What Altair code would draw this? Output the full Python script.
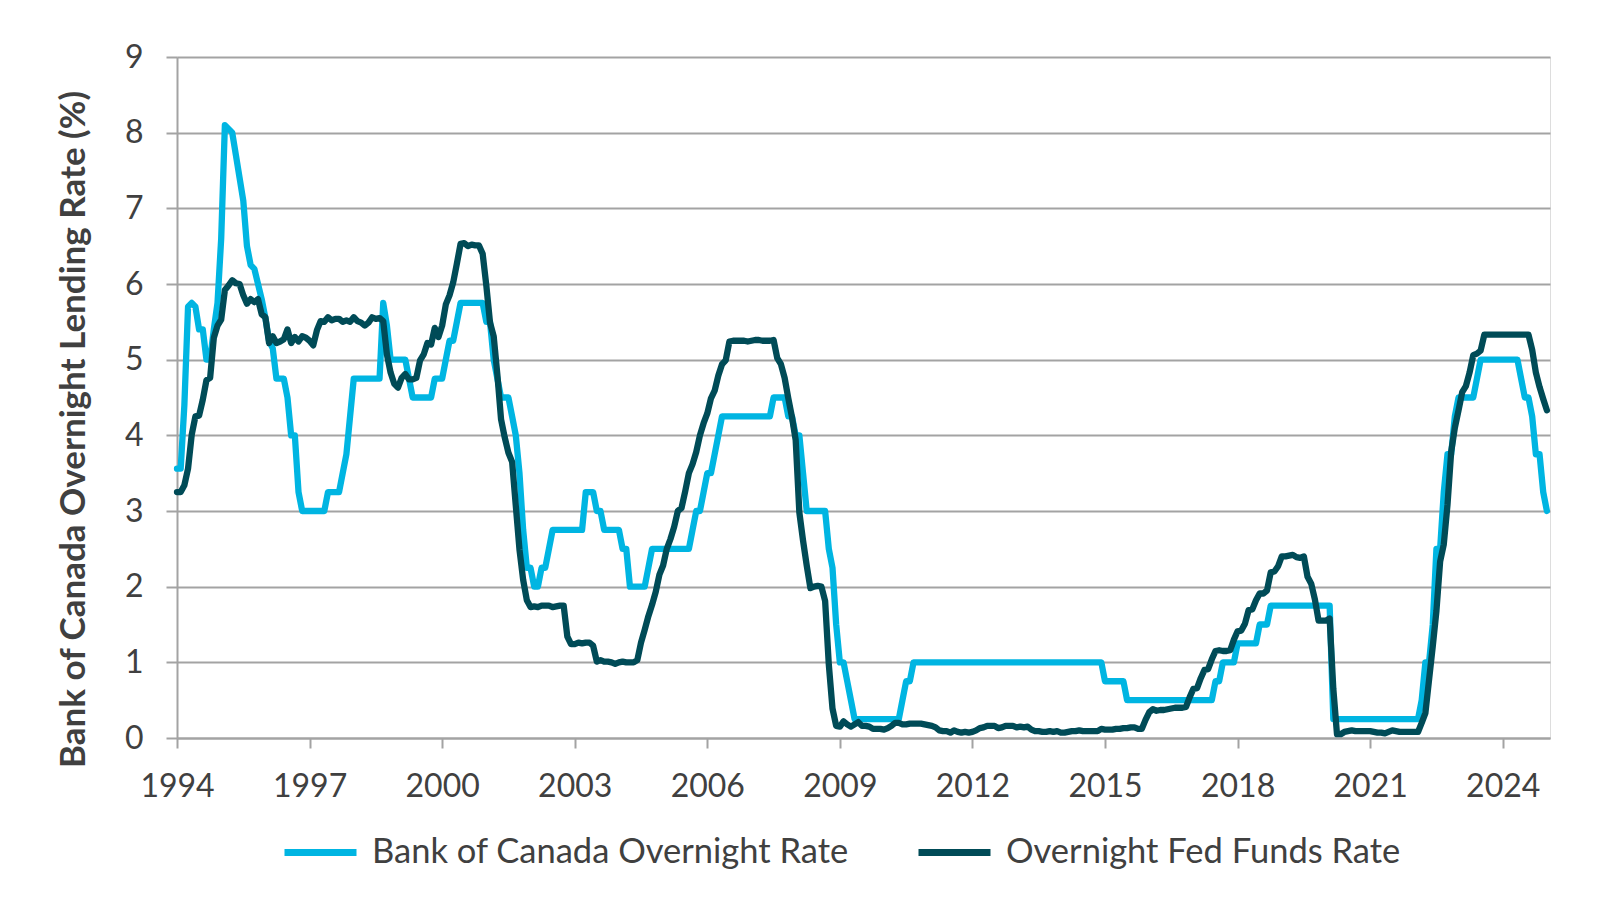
import altair as alt
import pandas as pd

# ---------------- data ----------------
SERIES = ["Bank of Canada Overnight Rate", "Overnight Fed Funds Rate"]
COLORS = ["#00B5E2", "#004B57"]

# Bank of Canada: vertices of the stepped monthly line (month, %)
BOC_DATES = [
    "1994-01", "1994-02", "1994-03", "1994-04", "1994-05", "1994-06", "1994-07", "1994-08",
    "1994-09", "1994-10", "1994-11", "1994-12", "1995-01", "1995-02", "1995-03", "1995-04",
    "1995-05", "1995-06", "1995-07", "1995-08", "1995-09", "1995-10", "1995-11", "1995-12",
    "1996-01", "1996-02", "1996-03", "1996-04", "1996-06", "1996-07", "1996-08", "1996-09",
    "1996-10", "1996-11", "1997-05", "1997-06", "1997-09", "1997-10", "1997-11", "1997-12",
    "1998-01", "1998-08", "1998-09", "1998-10", "1998-11", "1999-03", "1999-04", "1999-05",
    "1999-10", "1999-11", "2000-01", "2000-02", "2000-03", "2000-04", "2000-05", "2000-06",
    "2000-12", "2001-01", "2001-02", "2001-03", "2001-04", "2001-05", "2001-07", "2001-08",
    "2001-09", "2001-10", "2001-11", "2001-12", "2002-01", "2002-02", "2002-03", "2002-04",
    "2002-05", "2002-06", "2002-07", "2003-03", "2003-04", "2003-06", "2003-07", "2003-08",
    "2003-09", "2004-01", "2004-02", "2004-03", "2004-04", "2004-08", "2004-09", "2004-10",
    "2005-08", "2005-09", "2005-10", "2005-11", "2005-12", "2006-01", "2006-02", "2006-03",
    "2006-04", "2006-05", "2007-06", "2007-07", "2007-10", "2007-11", "2007-12", "2008-01",
    "2008-02", "2008-03", "2008-04", "2008-09", "2008-10", "2008-11", "2008-12", "2009-01",
    "2009-02", "2009-03", "2009-04", "2009-05", "2010-05", "2010-06", "2010-07", "2010-08",
    "2010-09", "2014-12", "2015-01", "2015-06", "2015-07", "2017-06", "2017-07", "2017-08",
    "2017-09", "2017-12", "2018-01", "2018-06", "2018-07", "2018-09", "2018-10", "2020-02",
    "2020-03", "2022-02", "2022-03", "2022-04", "2022-05", "2022-06", "2022-07", "2022-08",
    "2022-09", "2022-10", "2022-11", "2022-12", "2023-01", "2023-05", "2023-06", "2023-07",
    "2024-05", "2024-06", "2024-07", "2024-08", "2024-09", "2024-10", "2024-11", "2024-12",
    "2025-01",
]
BOC_RATES = [
    3.56, 3.56, 4.40, 5.70, 5.75, 5.70, 5.40, 5.40,
    5.00, 5.00, 5.40, 5.75, 6.60, 8.10, 8.05, 8.00,
    7.70, 7.40, 7.10, 6.50, 6.25, 6.20, 6.00, 5.80,
    5.55, 5.25, 5.15, 4.75, 4.75, 4.50, 4.00, 4.00,
    3.25, 3.00, 3.00, 3.25, 3.25, 3.50, 3.75, 4.25,
    4.75, 4.75, 5.75, 5.45, 5.00, 5.00, 4.75, 4.50,
    4.50, 4.75, 4.75, 5.00, 5.25, 5.25, 5.50, 5.75,
    5.75, 5.50, 5.50, 5.00, 4.75, 4.50, 4.50, 4.25,
    4.00, 3.50, 2.75, 2.25, 2.25, 2.00, 2.00, 2.25,
    2.25, 2.50, 2.75, 2.75, 3.25, 3.25, 3.00, 3.00,
    2.75, 2.75, 2.50, 2.50, 2.00, 2.00, 2.25, 2.50,
    2.50, 2.75, 3.00, 3.00, 3.25, 3.50, 3.50, 3.75,
    4.00, 4.25, 4.25, 4.50, 4.50, 4.25, 4.25, 4.00,
    4.00, 3.50, 3.00, 3.00, 2.50, 2.25, 1.50, 1.00,
    1.00, 0.75, 0.50, 0.25, 0.25, 0.50, 0.75, 0.75,
    1.00, 1.00, 0.75, 0.75, 0.50, 0.50, 0.75, 0.75,
    1.00, 1.00, 1.25, 1.25, 1.50, 1.50, 1.75, 1.75,
    0.25, 0.25, 0.50, 1.00, 1.00, 1.50, 2.50, 2.50,
    3.25, 3.75, 3.75, 4.25, 4.50, 4.50, 4.75, 5.00,
    5.00, 4.75, 4.50, 4.50, 4.25, 3.75, 3.75, 3.25,
    3.00,
]

# Fed funds: monthly values, Jan 1994 .. Jan 2025
FED_START = "1994-01"
FED_RATES = [
    3.25, 3.25, 3.34, 3.56, 4.01, 4.25, 4.26, 4.47, 4.73, 4.76, 5.29, 5.45,  # 1994
    5.53, 5.92, 5.98, 6.05, 6.01, 6.00, 5.85, 5.74, 5.80, 5.76, 5.80, 5.60,  # 1995
    5.56, 5.22, 5.31, 5.22, 5.24, 5.27, 5.40, 5.22, 5.30, 5.24, 5.31, 5.29,  # 1996
    5.25, 5.19, 5.39, 5.51, 5.50, 5.56, 5.52, 5.54, 5.54, 5.50, 5.52, 5.50,  # 1997
    5.56, 5.51, 5.49, 5.45, 5.49, 5.56, 5.54, 5.55, 5.51, 5.07, 4.83, 4.68,  # 1998
    4.63, 4.76, 4.81, 4.74, 4.74, 4.76, 4.99, 5.07, 5.22, 5.20, 5.42, 5.30,  # 1999
    5.45, 5.73, 5.85, 6.02, 6.27, 6.53, 6.54, 6.50, 6.52, 6.51, 6.51, 6.40,  # 2000
    5.98, 5.49, 5.31, 4.80, 4.21, 3.97, 3.77, 3.65, 3.07, 2.49, 2.09, 1.82,  # 2001
    1.73, 1.74, 1.73, 1.75, 1.75, 1.75, 1.73, 1.74, 1.75, 1.75, 1.34, 1.24,  # 2002
    1.24, 1.26, 1.25, 1.26, 1.26, 1.22, 1.01, 1.03, 1.01, 1.01, 1.00, 0.98,  # 2003
    1.00, 1.01, 1.00, 1.00, 1.00, 1.03, 1.26, 1.43, 1.61, 1.76, 1.93, 2.16,  # 2004
    2.28, 2.50, 2.63, 2.79, 3.00, 3.04, 3.26, 3.50, 3.62, 3.78, 4.00, 4.16,  # 2005
    4.29, 4.49, 4.59, 4.79, 4.94, 4.99, 5.24, 5.25, 5.25, 5.25, 5.25, 5.24,  # 2006
    5.25, 5.26, 5.26, 5.25, 5.25, 5.25, 5.26, 5.02, 4.94, 4.76, 4.49, 4.24,  # 2007
    3.94, 2.98, 2.61, 2.28, 1.98, 2.00, 2.01, 2.00, 1.81, 0.97, 0.39, 0.16,  # 2008
    0.15, 0.22, 0.18, 0.15, 0.18, 0.21, 0.16, 0.16, 0.15, 0.12, 0.12, 0.12,  # 2009
    0.11, 0.13, 0.16, 0.20, 0.20, 0.18, 0.18, 0.19, 0.19, 0.19, 0.19, 0.18,  # 2010
    0.17, 0.16, 0.14, 0.10, 0.09, 0.09, 0.07, 0.10, 0.08, 0.07, 0.08, 0.07,  # 2011
    0.08, 0.10, 0.13, 0.14, 0.16, 0.16, 0.16, 0.13, 0.14, 0.16, 0.16, 0.16,  # 2012
    0.14, 0.15, 0.14, 0.15, 0.11, 0.09, 0.09, 0.08, 0.08, 0.09, 0.08, 0.09,  # 2013
    0.07, 0.07, 0.08, 0.09, 0.09, 0.10, 0.09, 0.09, 0.09, 0.09, 0.09, 0.12,  # 2014
    0.11, 0.11, 0.11, 0.12, 0.12, 0.13, 0.13, 0.14, 0.14, 0.12, 0.12, 0.24,  # 2015
    0.34, 0.38, 0.36, 0.37, 0.37, 0.38, 0.39, 0.40, 0.40, 0.40, 0.41, 0.54,  # 2016
    0.65, 0.66, 0.79, 0.90, 0.91, 1.04, 1.15, 1.16, 1.15, 1.15, 1.16, 1.30,  # 2017
    1.41, 1.42, 1.51, 1.69, 1.70, 1.82, 1.91, 1.91, 1.95, 2.19, 2.20, 2.27,  # 2018
    2.40, 2.40, 2.41, 2.42, 2.39, 2.38, 2.40, 2.13, 2.04, 1.83, 1.55, 1.55,  # 2019
    1.55, 1.58, 0.65, 0.05, 0.05, 0.08, 0.09, 0.10, 0.09, 0.09, 0.09, 0.09,  # 2020
    0.09, 0.08, 0.07, 0.07, 0.06, 0.08, 0.10, 0.09, 0.08, 0.08, 0.08, 0.08,  # 2021
    0.08, 0.08, 0.20, 0.33, 0.77, 1.21, 1.68, 2.33, 2.56, 3.08, 3.78, 4.10,  # 2022
    4.33, 4.57, 4.65, 4.83, 5.06, 5.08, 5.12, 5.33, 5.33, 5.33, 5.33, 5.33,  # 2023
    5.33, 5.33, 5.33, 5.33, 5.33, 5.33, 5.33, 5.33, 5.13, 4.83, 4.64, 4.48,  # 2024
    4.33,                                                                    # 2025
]

X_TICKS = [1994, 1997, 2000, 2003, 2006, 2009, 2012, 2015, 2018, 2021, 2024]
Y_TICKS = [0, 1, 2, 3, 4, 5, 6, 7, 8, 9]
X_DOMAIN = [1994, 2025.07]
Y_TITLE = "Bank of Canada Overnight Lending Rate (%)"


def dec_year(ts):
    return ts.year + (ts.month - 1) / 12.0


boc = pd.DataFrame({
    "t": [dec_year(pd.Timestamp(d + "-01")) for d in BOC_DATES],
    "rate": BOC_RATES,
    "series": SERIES[0],
})
fed_dates = pd.date_range(FED_START + "-01", periods=len(FED_RATES), freq="MS")
fed = pd.DataFrame({
    "t": [dec_year(d) for d in fed_dates],
    "rate": FED_RATES,
    "series": SERIES[1],
})

FONT = "Lato"
TXT = "#404040"
GRID = "#A3A3A3"

x_enc = alt.X(
    "t:Q",
    scale=alt.Scale(domain=X_DOMAIN, nice=False, zero=False),
    axis=alt.Axis(
        values=X_TICKS, format="d", title=None, grid=False,
        domainColor=GRID, domainWidth=2, tickColor=GRID, tickWidth=2, tickSize=10,
        labelFont=FONT, labelFontSize=32, labelColor=TXT, labelPadding=23,
        labelFlush=False, labelOverlap=False,
    ),
)
y_enc = alt.Y(
    "rate:Q",
    scale=alt.Scale(domain=[0, 9], nice=False, zero=True),
    axis=alt.Axis(
        values=Y_TICKS, format="d", title=Y_TITLE,
        grid=True, gridColor=GRID, gridWidth=2,
        domainColor=GRID, domainWidth=2, tickColor=GRID, tickWidth=2, tickSize=11,
        labelFont=FONT, labelFontSize=32, labelColor=TXT, labelPadding=23,
        labelFlush=False, labelOverlap=False,
        titleFont=FONT, titleFontSize=35, titleFontWeight="bold", titleColor=TXT,
        titleAngle=270, titleAlign="center", titleBaseline="middle",
        titleX=-104, titleY=372,
    ),
)
color_enc = alt.Color(
    "series:N",
    scale=alt.Scale(domain=SERIES, range=COLORS),
    legend=alt.Legend(
        title=None, orient="none", direction="horizontal",
        legendX=104, legendY=756,
        symbolType="stroke", symbolSize=5184, symbolStrokeWidth=7,
        labelFont=FONT, labelFontSize=34.5, labelColor=TXT, labelOffset=12,
        labelLimit=800, columnPadding=55,
    ),
)

line_style = dict(strokeWidth=6.3, strokeCap="round", strokeJoin="round")

boc_line = alt.Chart(boc).mark_line(**line_style).encode(x=x_enc, y=y_enc, color=color_enc)
fed_line = alt.Chart(fed).mark_line(**line_style).encode(x=x_enc, y=y_enc, color=color_enc)

chart = (
    alt.layer(boc_line, fed_line)
    .properties(
        width=1373, height=681,
        autosize=alt.AutoSizeParams(type="none"),
        padding={"left": 169, "top": 49, "right": 47, "bottom": 160},
    )
    .configure_view(stroke=None)
    .configure(background="white")
)

chart.save("out.html", embed_options={"renderer": "svg", "actions": False})
